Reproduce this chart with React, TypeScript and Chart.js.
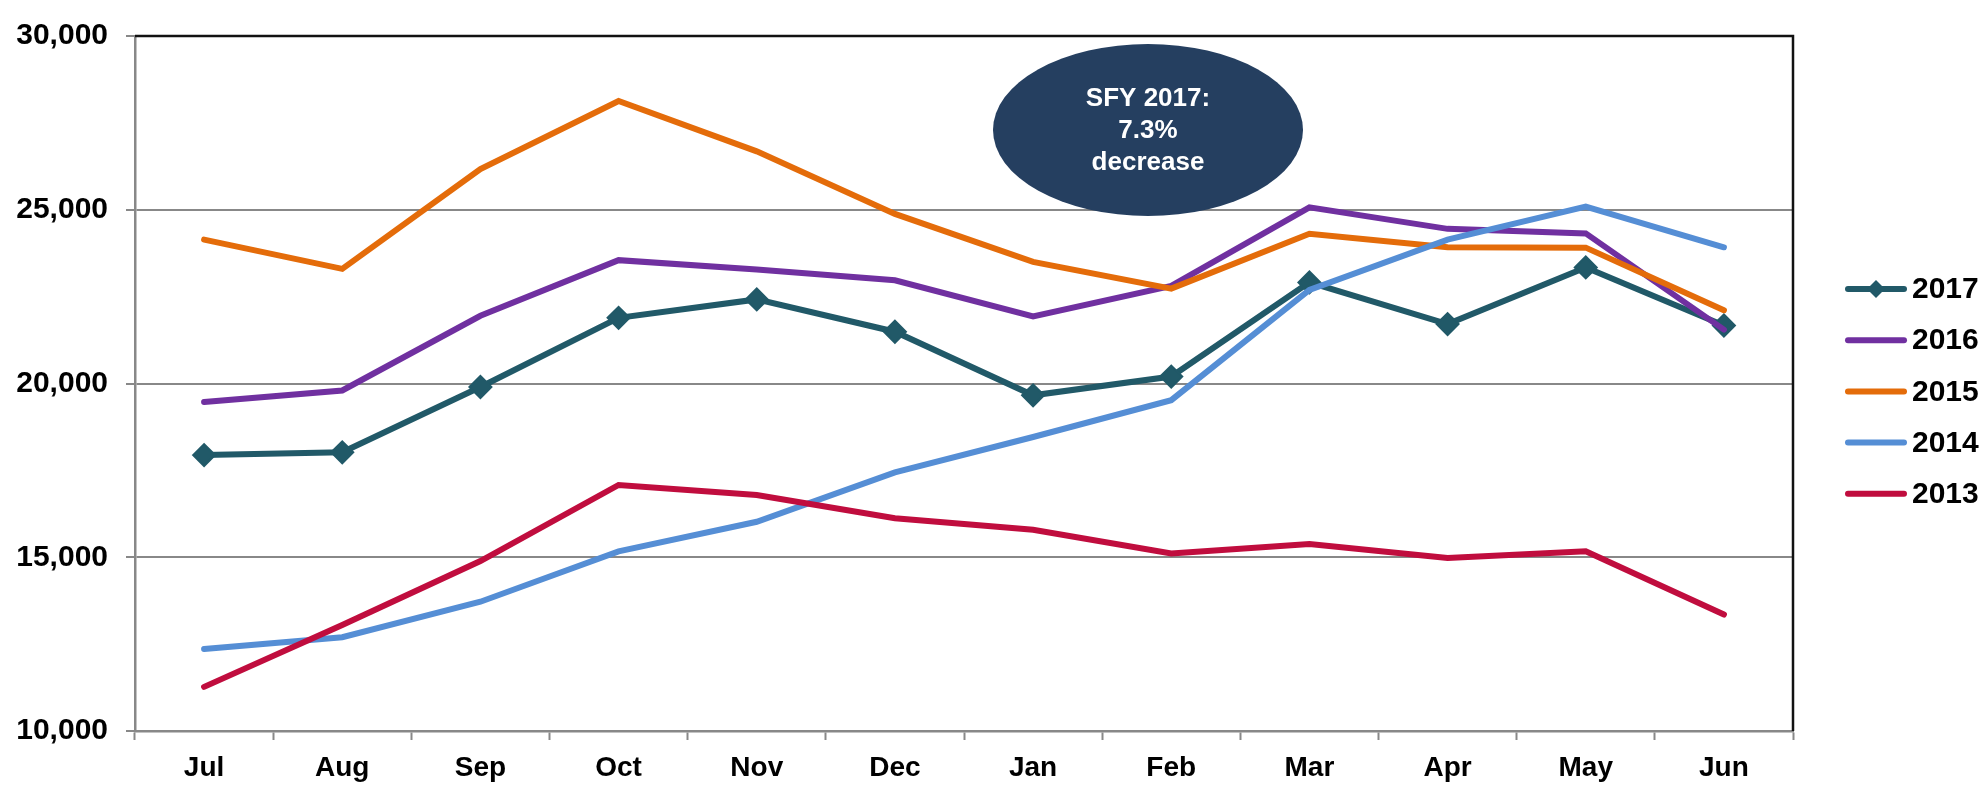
import React, { useEffect, useRef } from "react";
import { Chart, registerables } from "chart.js";

Chart.register(...registerables);

const months = ["Jul", "Aug", "Sep", "Oct", "Nov", "Dec", "Jan", "Feb", "Mar", "Apr", "May", "Jun"];
const yTicks = [10000, 15000, 20000, 25000, 30000];

const fy2017 = [17940, 18020, 19900, 21890, 22420, 21490, 19660, 20200, 22910, 21710, 23340, 21670];
const fy2016 = [19470, 19800, 21950, 23550, 23280, 22970, 21930, 22810, 25070, 24450, 24320, 21550];
const fy2015 = [24140, 23300, 26170, 28130, 26680, 24880, 23500, 22730, 24310, 23920, 23910, 22110];
const fy2014 = [12360, 12700, 13720, 15170, 16020, 17440, 18460, 19520, 22690, 24140, 25090, 23920];
const fy2013 = [11270, 13050, 14890, 17080, 16790, 16120, 15790, 15110, 15380, 14980, 15170, 13350];

const seriesLabels = ["2017", "2016", "2015", "2014", "2013"];
const seriesColors = ["#215968", "#7030A0", "#E46C0A", "#558ED5", "#C00D3E"];

const calloutLines = ["SFY 2017:", "7.3%", "decrease"];

const FONT = "'Liberation Sans', Arial, sans-serif";

const decorPlugin = {
  id: "decor",
  afterDatasetsDraw(chart: any) {
    const ctx = chart.ctx;
    const a = chart.chartArea;
    ctx.save();
    // top and right black border
    ctx.strokeStyle = "#111";
    ctx.lineWidth = 2.5;
    ctx.beginPath();
    ctx.moveTo(a.left, a.top);
    ctx.lineTo(a.right, a.top);
    ctx.lineTo(a.right, a.bottom);
    ctx.stroke();

    // callout ellipse
    ctx.fillStyle = "#253F60";
    ctx.beginPath();
    ctx.ellipse(1148, 130, 155, 86, 0, 0, Math.PI * 2);
    ctx.fill();
    ctx.fillStyle = "#ffffff";
    ctx.font = `bold 26px ${FONT}`;
    ctx.textAlign = "center";
    ctx.textBaseline = "middle";
    calloutLines.forEach((t, i) => {
      ctx.fillText(t, 1148, 99 + i * 32);
    });

    // legend
    const ds = chart.data.datasets;
    ctx.font = `bold 30px ${FONT}`;
    ctx.textAlign = "left";
    ds.forEach((d: any, i: number) => {
      const y = 289 + i * 51.2;
      ctx.strokeStyle = d.borderColor;
      ctx.lineWidth = 6;
      ctx.lineCap = "round";
      ctx.beginPath();
      ctx.moveTo(1848, y);
      ctx.lineTo(1904, y);
      ctx.stroke();
      if (d.pointStyle === "rectRot" && d.pointRadius > 0) {
        ctx.fillStyle = d.borderColor;
        ctx.beginPath();
        ctx.moveTo(1876 - 9, y);
        ctx.lineTo(1876, y - 9);
        ctx.lineTo(1876 + 9, y);
        ctx.lineTo(1876, y + 9);
        ctx.closePath();
        ctx.fill();
      }
      ctx.fillStyle = "#000";
      ctx.fillText(d.label, 1912, y + 1);
    });
    ctx.restore();
  },
};

export default function App() {
  const ref = useRef<HTMLCanvasElement | null>(null);

  useEffect(() => {
    if (!ref.current) return;
    const data = [fy2017, fy2016, fy2015, fy2014, fy2013];
    const datasets = data.map((vals, i) => ({
      label: seriesLabels[i],
      data: vals,
      borderColor: seriesColors[i],
      backgroundColor: seriesColors[i],
      borderWidth: 6,
      borderCapStyle: "round" as const,
      tension: 0,
      pointStyle: "rectRot" as const,
      pointRadius: i === 0 ? 11 : 0,
      pointBorderWidth: 2,
      pointBorderColor: seriesColors[i],
      pointBackgroundColor: seriesColors[i],
      order: 5 - i,
    }));

    const chart = new Chart(ref.current, {
      type: "line",
      data: { labels: months, datasets },
      options: {
        animation: false,
        responsive: true,
        maintainAspectRatio: false,
        layout: { padding: { top: 25, right: 191, left: 0, bottom: 0 } },
        plugins: {
          legend: { display: false },
          tooltip: { enabled: false },
        },
        scales: {
          x: {
            offset: true,
            afterFit(scale: any) {
              scale.height = 54;
            },
            grid: {
              offset: true,
              drawOnChartArea: false,
              drawTicks: true,
              tickLength: 9,
              tickColor: "#888",
              tickWidth: 2,
            },
            border: { display: true, color: "#888", width: 2.5 },
            ticks: {
              color: "#000",
              padding: 11,
              font: { family: FONT, size: 28, weight: "bold" },
            },
          },
          y: {
            min: 10000,
            max: 30000,
            afterFit(scale: any) {
              scale.width = 135;
            },
            afterBuildTicks(scale: any) {
              scale.ticks = yTicks.map((v) => ({ value: v }));
            },
            grid: {
              color: "#888",
              lineWidth: 2,
              tickLength: 9,
              tickColor: "#888",
              tickWidth: 2,
            },
            border: { display: true, color: "#888", width: 2.5 },
            ticks: {
              color: "#000",
              padding: 18,
              font: { family: FONT, size: 30, weight: "bold" },
              callback: (v: any) => Number(v).toLocaleString("en-US"),
            },
          },
        },
      },
      plugins: [decorPlugin],
    });
    return () => chart.destroy();
  }, []);

  return (
    <div style={{ position: "fixed", left: 0, top: 0, width: 1984, height: 785, background: "#fff" }}>
      <canvas ref={ref} />
    </div>
  );
}
